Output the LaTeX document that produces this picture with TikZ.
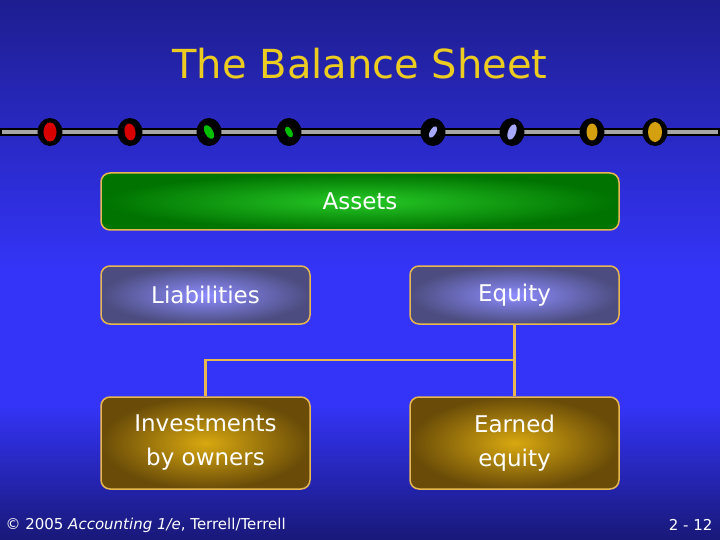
\documentclass[tikz,border=0pt]{standalone}
\usepackage{fontspec}
\setmainfont{DejaVu Sans}
\usetikzlibrary{shapes.geometric}
\begin{document}
\begin{tikzpicture}[x=1pt,y=-1pt,
  box/.style={draw=gold, line width=1.5pt, rounded corners=9pt, text=white, align=center, font=\fontsize{23}{34}\selectfont},
  conn/.style={draw=gold, line width=2.2pt},
  bead/.style={ellipse, draw=black, line width=3pt, minimum width=22pt, minimum height=25pt, inner sep=0pt}]
\definecolor{gold}{HTML}{E8B850}
\definecolor{bgtop}{HTML}{1E1E90}
\definecolor{bgmid}{HTML}{3434F8}
\definecolor{bgbot}{HTML}{181878}
\definecolor{goldin}{HTML}{D8A810}
\definecolor{goldout}{HTML}{6A4C08}
\definecolor{beadgold}{HTML}{D4A010}
\definecolor{beadblue}{HTML}{A8A8F8}
\useasboundingbox (0,0) rectangle (720,540);
\fill[top color=bgmid, bottom color=bgbot, middle color=bgmid] (0,270) rectangle (720,540);
\fill[top color=bgtop, bottom color=bgmid] (0,0) rectangle (720,270);
\node[text={rgb,255:red,236;green,204;blue,32}, font=\fontsize{40}{46}\selectfont] (title) at (360,64) {The Balance Sheet};
\draw[black, line width=8pt] (0,132) -- (720,132);
\draw[gray!70, line width=4pt] (2,132) -- (718,132);
\foreach \x/\c/\w/\h/\r in {50/red!85!black/13/19/0, 130/red!85!black/11/17/10, 209/green!75!black/8/15/30, 289/green!75!black/6/12/30, 433/beadblue/6/13/-30, 512/beadblue/8/16/-20, 592/beadgold/11/17/0, 655/beadgold/14/20/0}{
  \node[bead, fill=black] (b\x) at (\x,132) {};
  \fill[\c, rotate around={\r:(\x,132)}] (\x,132) ellipse ({\w/2} and {\h/2});
}
\node[box, minimum width=518pt, minimum height=57pt, inner color=green!75!black!85!white, outer color=green!45!black] (assets) at (360,201.5) {Assets};
\node[box, minimum width=209pt, minimum height=58pt, inner color=blue!45!white, outer color=blue!25!gray!80!black] (liab) at (205.5,295) {Liabilities};
\node[box, minimum width=209pt, minimum height=58pt, inner color=blue!45!white, outer color=blue!25!gray!80!black] (eq) at (514.5,295) {Equity};
\node[box, minimum width=209pt, minimum height=92pt, inner color=goldin, outer color=goldout] (inv) at (205.5,443) {Investments\\by owners};
\node[box, minimum width=209pt, minimum height=92pt, inner color=goldin, outer color=goldout] (earn) at (514.5,443) {Earned\\equity};
\coordinate (j) at (514,360);
\draw[conn] (eq.south) -- (earn.north);
\draw[conn] (j) -| (inv.north);
\node[anchor=west, text=white, font=\fontsize{15}{18}\selectfont] (foot) at (2,525) {© 2005 \textit{Accounting 1/e}, Terrell/Terrell};
\node[anchor=east, text=white, font=\fontsize{15}{18}\selectfont] (pg) at (716,525) {2 - 12};
\end{tikzpicture}
\end{document}
